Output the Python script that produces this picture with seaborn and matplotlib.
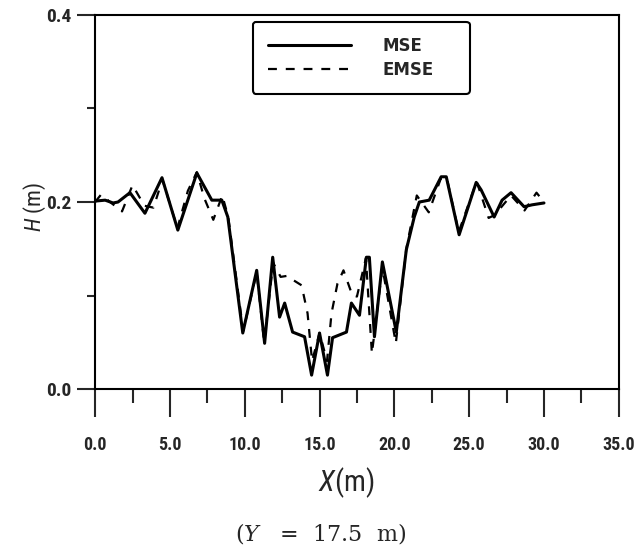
import matplotlib
matplotlib.use("Agg")
import matplotlib.pyplot as plt
from matplotlib import font_manager
import seaborn as sns
import pandas as pd

# MSE curve
mse_x = [0.0, 0.67, 1.2, 1.53, 2.33, 3.33, 4.47, 5.53, 6.8, 7.8, 8.47, 8.87,
         9.87, 10.8, 11.33, 11.87, 12.33, 12.67, 13.2, 14.0, 14.47, 15.0, 15.53,
         15.87, 16.8, 17.13, 17.67, 18.13, 18.33, 18.67, 19.2, 20.13, 20.8, 21.33,
         21.67, 22.33, 23.13, 23.47, 24.33, 25.47, 25.8, 26.67, 27.2, 27.8, 28.67,
         29.2, 30.0]
mse_h = [0.201, 0.202, 0.199, 0.200, 0.210, 0.188, 0.226, 0.170, 0.231, 0.202, 0.202, 0.184,
         0.060, 0.127, 0.049, 0.141, 0.077, 0.092, 0.061, 0.056, 0.015, 0.060, 0.015,
         0.055, 0.061, 0.092, 0.079, 0.141, 0.141, 0.056, 0.136, 0.061, 0.149, 0.184,
         0.200, 0.202, 0.227, 0.227, 0.165, 0.221, 0.213, 0.184, 0.202, 0.210, 0.195,
         0.197, 0.199]

# EMSE curve
emse_x = [0.0, 0.4, 1.0, 1.8, 2.5, 3.3, 3.9, 4.5, 5.5, 6.2, 6.8, 7.3, 7.9, 8.5, 8.9,
          9.9, 10.8, 11.3, 11.9, 12.4, 12.8, 13.8, 14.2, 14.5, 15.0, 15.5, 15.8, 16.2,
          16.6, 17.2, 17.5, 18.1, 18.5, 19.2, 20.1, 20.8, 21.5, 22.3, 23.1, 23.5, 24.3,
          25.5, 26.3, 26.7, 27.8, 28.7, 29.5, 30.0]
emse_h = [0.200, 0.208, 0.200, 0.190, 0.218, 0.196, 0.194, 0.224, 0.172, 0.212, 0.232,
          0.204, 0.181, 0.207, 0.184, 0.062, 0.125, 0.050, 0.135, 0.120, 0.121, 0.111,
          0.081, 0.030, 0.060, 0.030, 0.081, 0.113, 0.127, 0.100, 0.099, 0.140, 0.038,
          0.130, 0.049, 0.150, 0.207, 0.189, 0.225, 0.226, 0.168, 0.222, 0.183, 0.186,
          0.207, 0.191, 0.210, 0.200]

x_ticks = [0, 5, 10, 15, 20, 25, 30, 35]
x_labels = ["0.0", "5.0", "10.0", "15.0", "20.0", "25.0", "30.0", "35.0"]
y_ticks = [0.0, 0.2, 0.4]
y_labels = ["0.0", "0.2", "0.4"]

mse_df = pd.DataFrame({"X": mse_x, "H": mse_h})
emse_df = pd.DataFrame({"X": emse_x, "H": emse_h})

# look for a narrow sans face for the axis texts
fonts = font_manager.fontManager.ttflist
names = {f.name for f in fonts}
narrow, stretch = "Liberation Sans", "normal"
for cand in ["Liberation Sans Narrow", "Noto Sans Condensed", "DejaVu Sans Condensed",
             "Roboto Condensed", "Open Sans Condensed"]:
    if cand in names:
        narrow = cand
        break
else:
    for fam in ["Noto Sans", "DejaVu Sans", "Open Sans", "Roboto"]:
        if any(f.name == fam and f.stretch in ("condensed", "semi-condensed") for f in fonts):
            narrow, stretch = fam, "condensed"
            break

sns.set_style("ticks")
plt.rcParams["font.family"] = [narrow, "DejaVu Sans"]
plt.rcParams["font.stretch"] = stretch
plt.rcParams["mathtext.fontset"] = "custom"
plt.rcParams["mathtext.it"] = narrow + ":italic"
plt.rcParams["mathtext.rm"] = narrow

fig = plt.figure(figsize=(6.34, 5.52), dpi=100)
ax = fig.add_axes([0.150, 0.295, 0.826, 0.678])

sns.lineplot(data=mse_df, x="X", y="H", ax=ax, color="black", linewidth=2.2,
             label="MSE", sort=False)
sns.lineplot(data=emse_df, x="X", y="H", ax=ax, color="black", linewidth=1.6,
             linestyle=(0, (4, 4)), label="EMSE", sort=False)

ax.set_xlim(0, 35)
ax.set_ylim(0, 0.4)
ax.set_xticks(x_ticks)
ax.set_xticklabels(x_labels, fontsize=13, fontweight="bold")
ax.set_xticks([2.5, 7.5, 12.5, 17.5, 22.5, 27.5, 32.5], minor=True)
ax.set_yticks(y_ticks)
ax.set_yticklabels(y_labels, fontsize=14, fontweight="bold")
ax.set_yticks([0.1, 0.3], minor=True)
ax.tick_params(axis="x", which="major", direction="out", length=20, width=1.5, pad=14)
ax.tick_params(axis="x", which="minor", direction="out", length=10, width=1.5)
ax.tick_params(axis="y", which="major", direction="out", length=13, width=1.5, pad=4)
ax.tick_params(axis="y", which="minor", direction="out", length=6, width=1.5)
for s in ax.spines.values():
    s.set_visible(True)
    s.set_linewidth(1.5)
    s.set_color("black")

ax.set_xlabel(r"$X$(m)", fontsize=21)
ax.xaxis.set_label_coords(0.479, -0.203)
ax.set_ylabel(r"$H$ (m)", fontsize=16)
ax.yaxis.set_label_coords(-0.09, 0.487)

leg = ax.legend(loc="upper left", bbox_to_anchor=(0.3015, 0.785, 0.414, 0.196),
                mode="expand", borderaxespad=0, fancybox=True, handlelength=5.0,
                handletextpad=1.9, borderpad=0.9, labelspacing=0.33,
                prop={"family": "DejaVu Sans", "weight": "bold", "size": 12,
                      "stretch": "normal"})
leg.get_frame().set_edgecolor("black")
leg.get_frame().set_linewidth(1.5)
leg.get_frame().set_alpha(1)

fig.text(0.505, 0.033, r"($Y$   =  17.5  m)", ha="center", va="center", fontsize=16,
         family="DejaVu Serif", stretch="normal", math_fontfamily="dejavuserif")

fig.savefig("out.png", dpi=100)
